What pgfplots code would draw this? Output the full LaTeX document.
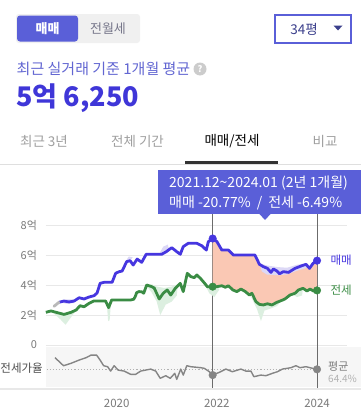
\documentclass[border=0pt]{standalone}
\usepackage{fontspec}
\setmainfont{Noto Sans CJK KR}
\usepackage{pgfplots}
\pgfplotsset{compat=1.18}
\definecolor{sale}{HTML}{4636E0}
\definecolor{jeonse}{HTML}{3A8C44}
\definecolor{tip}{HTML}{5A5FD8}
\definecolor{salmon}{HTML}{FAC8B4}
\definecolor{bandg}{HTML}{DCEFE0}
\definecolor{bandb}{HTML}{DCD8F6}
\definecolor{ticktxt}{HTML}{7A7A7A}
\definecolor{ratioc}{HTML}{858585}
\definecolor{navy}{HTML}{3B3F8C}
\definecolor{subt}{HTML}{6266D2}
\definecolor{vline}{HTML}{6B6B6B}
\definecolor{big}{HTML}{3F36D8}
\begin{document}
\begin{tikzpicture}
\useasboundingbox (0,0) rectangle (361pt,-415pt);
\fill[white] (0,0) rectangle (361pt,-415pt);
% toggle
\fill[gray!12, rounded corners=3pt] (16pt,-14pt) rectangle (140pt,-43pt);
\fill[tip, rounded corners=3pt] (17pt,-15.5pt) rectangle (78pt,-41.5pt);
\node[text=white, font=\fontsize{13}{15}\selectfont\bfseries] at (47.5pt,-28.5pt) {매매};
\node[text={rgb,255:red,118;green,118;blue,138}, font=\fontsize{13}{15}\selectfont] at (108pt,-28.5pt) {전월세};
% dropdown
\draw[tip, line width=2pt] (275pt,-15pt) rectangle (351pt,-43pt);
\node[text=navy, font=\fontsize{13.5}{15}\selectfont] at (304pt,-29.5pt) {34평};
\fill[navy] (333.5pt,-25.5pt) -- (342.5pt,-25.5pt) -- (338pt,-30.5pt) -- cycle;
% subtitle
\node[anchor=west, inner sep=0pt, text=subt, font=\fontsize{15}{17}\selectfont] at (16.5pt,-69pt) {최근 실거래 기준 1개월 평균};
\fill[gray!40] (200pt,-69pt) circle (6.5pt);
\node[text=white, font=\fontsize{9}{10}\selectfont\bfseries] at (200pt,-69pt) {?};
\node[anchor=west, inner sep=0pt, text=big, font=\fontsize{27}{30}\selectfont\bfseries] at (16pt,-98pt) {5억 6,250};
% tabs
\node[text=gray!75, font=\fontsize{13.5}{15}\selectfont] at (44pt,-141pt) {최근 3년};
\node[text=gray!75, font=\fontsize{13.5}{15}\selectfont] at (137.5pt,-141pt) {전체 기간};
\node[text=black, font=\fontsize{13.5}{15}\selectfont] at (232pt,-141pt) {매매/전세};
\node[text=gray!75, font=\fontsize{13.5}{15}\selectfont] at (325pt,-141pt) {비교};
\draw[gray!25, line width=1pt] (0pt,-164pt) -- (361pt,-164pt);
\draw[black!80, line width=3pt] (185pt,-162.5pt) -- (278pt,-162.5pt);

% main price axis
\begin{axis}[at={(45.5pt,-345pt)}, anchor=south west, scale only axis,
  width=301.6pt, height=127.5pt, xmin=2018.58, xmax=2024.6, ymin=0, ymax=8.5,
  enlargelimits=false, clip=false,
  axis line style={draw=none}, tick style={draw=none},
  xtick=\empty, ytick={0,2,4,6,8}, yticklabels={0,2억,4억,6억,8억},
  ymajorgrids, major grid style={gray!18, line width=0.8pt},
  yticklabel style={font=\fontsize{11}{13}\selectfont, text=ticktxt, xshift=-5pt}]
\addplot[draw=vline, line width=1pt] coordinates {(2021.917,8.73) (2021.917,-2.93)};
\addplot[draw=vline, line width=1pt] coordinates {(2024.0,8.73) (2024.0,-2.93)};
% salmon area between sale (forward) and jeonse (backward), 2021.12 to 2024.01
\addplot[draw=none, fill=salmon] coordinates {
(2021.917,7.10)(2022.00,6.90)(2022.10,6.33)(2022.23,6.33)(2022.33,6.00)(2022.76,6.00)(2022.85,5.38)(2022.93,5.22)(2023.01,5.11)(2023.08,4.84)(2023.13,5.07)(2023.20,4.93)(2023.25,4.75)(2023.33,4.89)(2023.43,4.84)(2023.56,5.11)(2023.70,5.29)(2023.78,5.38)(2023.85,5.11)(2023.92,5.44)(2024.00,5.625)
(2024.00,3.64)(2023.93,3.60)(2023.86,3.73)(2023.80,3.60)(2023.72,3.78)(2023.63,3.67)(2023.56,3.45)(2023.46,3.33)(2023.36,3.07)(2023.30,2.98)(2023.20,2.85)(2023.10,2.67)(2023.01,2.75)(2022.93,2.67)(2022.85,2.71)(2022.78,2.89)(2022.70,3.45)(2022.65,3.33)(2022.57,3.56)(2022.48,3.73)(2022.40,3.56)(2022.32,3.67)(2022.23,3.95)(2022.17,3.85)(2022.10,3.95)(2022.00,3.89)(2021.917,3.89)};
% green range bands
\addplot[draw=none, fill=bandg] coordinates {(2018.70,2.25) (2018.80,2.2) (2018.95,2.08) (2019.10,2.2) (2019.20,2.35) (2019.10,1.9) (2018.98,1.35) (2018.88,1.7) (2018.75,2.1)};
\addplot[draw=none, fill=bandg] coordinates {(2019.79,2.93) (2019.84,2.49) (2019.89,2.95) (2019.86,1.65) (2019.83,1.6) (2019.81,2.5)};
\addplot[draw=none, fill=bandg] coordinates {(2020.58,4.0) (2020.70,4.05) (2020.80,3.9) (2020.95,3.8) (2021.10,3.9) (2021.22,4.05) (2021.20,3.3) (2021.10,2.9) (2020.98,2.7) (2020.87,2.0) (2020.80,2.9) (2020.70,3.5)};
\addplot[draw=none, fill=bandg] coordinates {(2021.73,4.22) (2021.85,3.85) (2022.0,3.9) (2022.05,3.7) (2021.95,3.2) (2021.85,3.45)};
\addplot[draw=none, fill=bandg] coordinates {(2022.65,3.33) (2022.78,2.89) (2022.93,2.67) (2023.10,2.67) (2023.30,2.98) (2023.2,2.6) (2023.05,2.4) (2022.95,2.3) (2022.88,1.6) (2022.80,2.4) (2022.70,3.1)};
\addplot[draw=none, fill=bandg] coordinates {(2023.50,3.4) (2023.63,3.67) (2023.72,3.78) (2023.70,3.3) (2023.60,3.2)};
% blue range bands
\addplot[draw=none, fill=bandb] coordinates {(2020.85,6.05) (2020.95,6.15) (2021.05,6.35) (2021.02,6.7) (2020.93,6.55) (2020.87,6.2)};
\addplot[draw=none, fill=bandb] coordinates {(2020.18,5.56) (2020.27,5.62) (2020.32,5.85) (2020.24,5.9)};
\addplot[draw=none, fill=bandb] coordinates {(2022.85,5.45) (2023.0,5.3) (2023.2,5.2) (2023.4,5.15) (2023.6,5.35) (2023.8,5.45) (2023.8,5.15) (2023.6,4.95) (2023.4,4.7) (2023.2,4.65) (2023.0,4.7) (2022.9,4.9)};
\addplot[draw=none, fill=bandb] coordinates {(2018.85,2.85) (2019.0,3.05) (2019.15,3.05) (2019.15,2.8) (2019.0,2.75)};
% series
\addplot[draw=sale, line width=2.8pt, line join=round] coordinates {
(2018.85,2.85)(2018.95,2.93)(2019.05,2.87)(2019.15,2.93)(2019.25,3.15)(2019.35,3.07)(2019.45,3.20)(2019.55,3.29)(2019.61,3.47)(2019.67,4.11)(2019.75,4.18)(2019.91,4.18)(2019.98,4.78)(2020.05,4.89)(2020.11,4.93)(2020.20,5.56)(2020.27,5.62)(2020.33,5.33)(2020.41,5.73)(2020.50,5.51)(2020.59,6.05)(2020.67,6.05)(2020.90,6.05)(2020.99,6.22)(2021.10,6.49)(2021.20,6.22)(2021.27,6.05)(2021.33,6.56)(2021.43,6.78)(2021.60,6.78)(2021.70,6.62)(2021.79,6.33)(2021.83,6.89)(2021.917,7.10)(2022.00,6.90)(2022.10,6.33)(2022.23,6.33)(2022.33,6.00)(2022.76,6.00)(2022.85,5.38)(2022.93,5.22)(2023.01,5.11)(2023.08,4.84)(2023.13,5.07)(2023.20,4.93)(2023.25,4.75)(2023.33,4.89)(2023.43,4.84)(2023.56,5.11)(2023.70,5.29)(2023.78,5.38)(2023.85,5.11)(2023.92,5.44)(2024.00,5.625)};
\addplot[draw=gray!55, line width=2.8pt, line cap=round] coordinates {(2018.75,2.58)(2018.85,2.85)};
\addplot[draw=jeonse, line width=2.8pt, line join=round] coordinates {
(2018.587,2.18)(2018.69,2.27)(2018.79,2.18)(2018.95,2.04)(2019.09,2.18)(2019.19,2.33)(2019.27,2.62)(2019.35,2.55)(2019.45,2.78)(2019.54,2.93)(2019.78,2.93)(2019.84,2.49)(2019.90,3.00)(2020.28,3.00)(2020.34,3.05)(2020.37,3.22)(2020.40,3.49)(2020.44,3.56)(2020.50,3.55)(2020.54,3.45)(2020.60,4.00)(2020.70,3.89)(2020.75,3.80)(2020.85,3.07)(2020.93,3.45)(2021.01,3.67)(2021.08,3.33)(2021.17,3.78)(2021.27,4.11)(2021.33,3.56)(2021.41,4.78)(2021.48,4.56)(2021.55,4.49)(2021.60,4.67)(2021.67,4.45)(2021.73,4.22)(2021.81,3.89)(2021.917,3.89)(2022.00,3.89)(2022.10,3.95)(2022.17,3.85)(2022.23,3.95)(2022.32,3.67)(2022.40,3.56)(2022.48,3.73)(2022.57,3.56)(2022.65,3.33)(2022.70,3.45)(2022.78,2.89)(2022.85,2.71)(2022.93,2.67)(2023.01,2.75)(2023.10,2.67)(2023.20,2.85)(2023.30,2.98)(2023.36,3.07)(2023.46,3.33)(2023.56,3.45)(2023.63,3.67)(2023.72,3.78)(2023.80,3.60)(2023.86,3.73)(2023.93,3.60)(2024.00,3.64)};
\addplot[only marks, mark=*, mark size=3.8pt, sale] coordinates {(2021.917,7.10)(2024,5.625)};
\addplot[only marks, mark=*, mark size=3.8pt, jeonse] coordinates {(2021.917,3.89)(2024,3.64)};
\node[anchor=west, text=sale, font=\fontsize{11.5}{13}\selectfont] at (axis cs:2024.2,5.625) {매매};
\node[anchor=west, text=jeonse, font=\fontsize{11.5}{13}\selectfont] at (axis cs:2024.2,3.64) {전세};
\end{axis}

% ratio axis
\begin{axis}[at={(45.5pt,-386.7pt)}, anchor=south west, scale only axis,
  width=315.6pt, height=40pt, xmin=2018.58, xmax=2024.88, ymin=50.5, ymax=82.5,
  enlargelimits=false, clip=false,
  axis line style={draw=none}, tick style={draw=none},
  ytick=\empty, xtick={2020,2022,2024}, xticklabels={2020,2022,2024},
  xticklabel style={font=\fontsize{11.5}{13}\selectfont, text=ticktxt, yshift=-9pt},
  axis background/.style={fill={rgb,255:red,246;green,246;blue,246}}]
\addplot[draw=vline, line width=1pt] coordinates {(2021.917,82.5) (2021.917,48.66)};
\addplot[draw=vline, line width=1pt] coordinates {(2024.0,82.5) (2024.0,48.66)};
\addplot[draw=gray!60, line width=1.1pt, dotted] coordinates {(2018.6,64.4)(2024.0,64.4)};
\addplot[draw=ratioc, line width=1.4pt, line join=round] coordinates {
(2018.77,73.7)(2018.94,67.3)(2019.09,69.2)(2019.25,71.8)(2019.39,73.7)(2019.49,75.8)(2019.60,75.8)(2019.67,71.8)(2019.74,67.3)(2019.82,66.5)(2019.88,63.0)(2019.95,67.3)(2020.03,63.8)(2020.15,63.0)(2020.28,60.4)(2020.38,60.4)(2020.48,63.0)(2020.68,64.6)(2020.78,63.0)(2020.87,57.2)(2020.98,59.3)(2021.07,57.2)(2021.16,61.2)(2021.20,56.4)(2021.28,64.6)(2021.33,59.8)(2021.40,67.3)(2021.48,66.5)(2021.68,65.7)(2021.75,65.2)(2021.85,62.5)(2021.917,59.8)(2022.05,62.0)(2022.18,64.6)(2022.31,62.5)(2022.48,64.6)(2022.58,63.0)(2022.68,63.0)(2022.74,58.5)(2022.88,59.8)(2022.98,59.3)(2023.11,61.2)(2023.21,62.5)(2023.31,64.6)(2023.48,65.7)(2023.58,67.3)(2023.66,65.7)(2023.78,66.5)(2023.91,65.2)(2024.0,64.4)};
\addplot[only marks, mark=*, mark size=3.8pt, ratioc] coordinates {(2021.917,59.8)(2024,64.4)};
\end{axis}

\draw[gray!18, line width=2pt] (0pt,-389pt) -- (361pt,-389pt);
\node[anchor=east, inner sep=0pt, text=black!70, font=\fontsize{11.5}{13}\selectfont] at (43pt,-368pt) {전세가율};
\node[anchor=west, inner sep=0pt, text=ticktxt, font=\fontsize{11}{13}\selectfont] at (328pt,-366.5pt) {평균};
\node[anchor=west, inner sep=0pt, text=gray!60, font=\fontsize{10}{12}\selectfont] at (328pt,-378.5pt) {64.4\%};

% tooltip
\fill[tip] (158pt,-170pt) rectangle (361pt,-214pt);
\fill[tip] (259pt,-213.5pt) -- (271pt,-213.5pt) -- (265pt,-220pt) -- cycle;
\node[anchor=west, inner sep=0pt, text=white, font=\fontsize{14}{16}\selectfont] at (169pt,-183pt) {2021.12\textasciitilde 2024.01 (2년 1개월)};
\node[anchor=west, inner sep=0pt, text=white, font=\fontsize{14}{16}\selectfont] at (169pt,-203pt) {매매 -20.77\%\hspace{6pt}/\hspace{6pt}전세 -6.49\%};
\end{tikzpicture}
\end{document}
